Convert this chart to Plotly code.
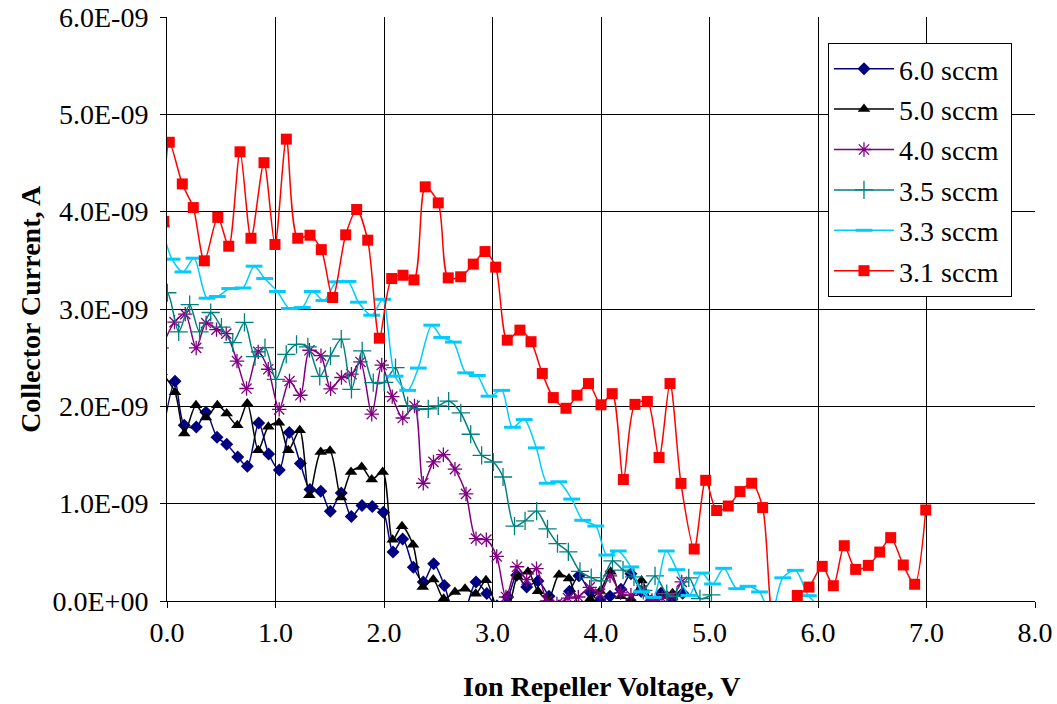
import plotly.graph_objects as go

# ---- data (current in units of 1E-09 A, voltage in V) ----
labels = ["6.0 sccm", "5.0 sccm", "4.0 sccm", "3.5 sccm", "3.3 sccm", "3.1 sccm"]

x_60 = [-0.06, 0.074, 0.159, 0.270, 0.359, 0.461, 0.550, 0.652, 0.740, 0.845, 0.937, 1.035, 1.127, 1.229, 1.318,
        1.417, 1.505, 1.606, 1.699, 1.797, 1.892, 1.994, 2.083, 2.172, 2.270, 2.362, 2.458, 2.556, 2.650,
        2.747, 2.848, 2.947, 3.041, 3.140, 3.223, 3.315, 3.419, 3.521, 3.613, 3.710, 3.797, 3.899, 3.991,
        4.083, 4.184, 4.276, 4.369, 4.461, 4.553, 4.654, 4.753]
y_60 = [1.60, 2.257, 1.805, 1.787, 1.939, 1.683, 1.610, 1.480, 1.384, 1.829, 1.511, 1.346, 1.730, 1.412, 1.145,
        1.128, 0.922, 1.110, 0.867, 0.981, 0.970, 0.912, 0.504, 0.636, 0.348, 0.195, 0.383, 0.160, -0.120,
        -0.080, 0.195, 0.076, -0.050, 0.041, 0.264, 0.144, 0.206, 0.050, -0.050, 0.100, 0.260, 0.090, 0.000,
        0.050, 0.120, 0.280, 0.100, 0.000, 0.080, 0.020, 0.080]

x_50 = [-0.05, 0.074, 0.159, 0.267, 0.359, 0.464, 0.550, 0.648, 0.740, 0.841, 0.934, 1.032, 1.118, 1.223, 1.312,
        1.417, 1.502, 1.604, 1.696, 1.794, 1.887, 1.988, 2.080, 2.166, 2.267, 2.357, 2.454, 2.550, 2.654,
        2.747, 2.845, 2.940, 3.037, 3.134, 3.230, 3.327, 3.419, 3.516, 3.613, 3.705, 3.802, 3.899, 3.991,
        4.088, 4.184, 4.276, 4.373, 4.470, 4.553, 4.659]
y_50 = [2.35, 2.145, 1.720, 2.011, 1.884, 2.011, 1.926, 1.806, 2.029, 1.549, 1.790, 1.831, 1.549, 1.753, 1.086,
        1.532, 1.543, 1.063, 1.326, 1.377, 1.248, 1.326, 0.629, 0.767, 0.579, 0.144, 0.220, 0.024, 0.092,
        0.127, 0.075, 0.212, -0.05, -0.10, 0.25, 0.30, 0.10, 0.02, 0.27, 0.23, -0.05, 0.02, 0.10,
        0.30, 0.05, 0.02, 0.21, 0.00, 0.05, 0.08]

x_40 = [-0.05, 0.069, 0.168, 0.269, 0.361, 0.456, 0.546, 0.645, 0.733, 0.841, 0.933, 1.034, 1.129, 1.229, 1.313,
        1.419, 1.508, 1.608, 1.700, 1.783, 1.887, 1.979, 2.076, 2.173, 2.281, 2.362, 2.456, 2.547, 2.654,
        2.756, 2.848, 2.943, 3.039, 3.124, 3.226, 3.315, 3.406, 3.502, 3.594, 3.696, 3.791, 3.896, 3.991,
        4.083, 4.180, 4.276, 4.375, 4.470, 4.562, 4.654, 4.744]
y_40 = [2.60, 2.865, 2.947, 2.600, 2.856, 2.788, 2.747, 2.464, 2.183, 2.560, 2.381, 1.969, 2.260, 2.114, 2.576,
        2.520, 2.180, 2.296, 2.330, 2.456, 1.919, 2.424, 2.100, 1.880, 2.004, 1.210, 1.429, 1.503, 1.355,
        1.100, 0.641, 0.630, 0.458, 0.041, 0.352, 0.220, 0.333, 0.000, -0.030, 0.030, 0.041, 0.141, 0.076,
        0.258, 0.084, 0.059, 0.110, 0.005, 0.030, 0.050, 0.196]

x_35 = [-0.08, 0.003, 0.108, 0.209, 0.300, 0.403, 0.502, 0.606, 0.714, 0.811, 0.903, 1.003, 1.099, 1.194, 1.298,
        1.408, 1.507, 1.606, 1.700, 1.799, 1.901, 2.002, 2.106, 2.218, 2.309, 2.408, 2.500, 2.596, 2.708,
        2.799, 2.900, 3.007, 3.097, 3.203, 3.300, 3.407, 3.507, 3.599, 3.699, 3.806, 3.910, 4.000, 4.106,
        4.203, 4.304, 4.390, 4.498, 4.606, 4.698, 4.809, 4.912, 5.018]
y_35 = [3.10, 3.167, 2.765, 3.044, 2.765, 2.964, 2.813, 2.654, 2.862, 2.510, 2.603, 2.276, 2.533, 2.636, 2.610,
        2.307, 2.517, 2.691, 2.174, 2.569, 2.243, 2.246, 2.397, 2.008, 1.973, 1.973, 2.004, 2.054, 1.932,
        1.713, 1.497, 1.428, 1.274, 0.769, 0.824, 0.923, 0.740, 0.590, 0.504, 0.304, 0.240, 0.206, 0.412,
        0.317, 0.248, 0.110, 0.258, 0.076, 0.048, 0.238, 0.024, 0.062]

x_33 = [-0.05, 0.046, 0.147, 0.249, 0.369, 0.464, 0.578, 0.700, 0.802, 0.900, 1.017, 1.128, 1.247, 1.339, 1.447,
        1.560, 1.668, 1.765, 1.887, 1.988, 2.101, 2.218, 2.316, 2.440, 2.532, 2.639, 2.753, 2.860, 2.968,
        3.085, 3.184, 3.292, 3.404, 3.504, 3.611, 3.730, 3.831, 3.952, 4.053, 4.159, 4.275, 4.375, 4.482,
        4.601, 4.698, 4.811, 4.928, 5.028, 5.131, 5.251, 5.355, 5.461, 5.567, 5.675, 5.791, 5.911, 6.009]
y_33 = [3.85, 3.512, 3.381, 3.522, 3.111, 3.128, 3.210, 3.216, 3.440, 3.313, 3.180, 3.005, 3.015, 3.180, 3.087,
        3.279, 3.283, 3.070, 2.936, 3.100, 2.310, 2.164, 2.393, 2.834, 2.708, 2.660, 2.344, 2.317, 2.104,
        2.164, 1.785, 1.864, 1.573, 1.210, 1.225, 1.047, 0.829, 0.770, 0.472, 0.514, 0.350, 0.094, 0.037,
        0.514, 0.322, 0.058, 0.287, 0.175, 0.336, 0.127, 0.151, 0.093, -0.15, 0.238, 0.315, 0.055, -0.05]

x_31 = [-0.03, 0.021, 0.141, 0.242, 0.344, 0.468, 0.569, 0.673, 0.774, 0.894, 0.995, 1.100, 1.205, 1.318, 1.422,
        1.527, 1.647, 1.748, 1.850, 1.957, 2.071, 2.175, 2.276, 2.380, 2.500, 2.592, 2.707, 2.823, 2.931,
        3.029, 3.136, 3.253, 3.355, 3.459, 3.560, 3.677, 3.779, 3.885, 4.000, 4.103, 4.206, 4.313, 4.427,
        4.535, 4.636, 4.737, 4.859, 4.965, 5.066, 5.173, 5.281, 5.389, 5.490, 5.600, 5.705, 5.809, 5.917,
        6.039, 6.141, 6.242, 6.347, 6.464, 6.569, 6.670, 6.786, 6.891, 6.993]
y_31 = [3.90, 4.713, 4.285, 4.042, 3.495, 3.941, 3.645, 4.615, 3.727, 4.503, 3.663, 4.745, 3.727, 3.758, 3.610,
        3.118, 3.762, 4.022, 3.707, 2.700, 3.313, 3.347, 3.299, 4.255, 4.090, 3.320, 3.331, 3.461, 3.590,
        3.430, 2.680, 2.783, 2.664, 2.338, 2.090, 1.980, 2.114, 2.234, 2.016, 2.130, 1.248, 2.020, 2.050,
        1.474, 2.234, 1.208, 0.534, 1.240, 0.930, 0.976, 1.124, 1.210, 0.960, -0.25, -0.10, 0.057, 0.143,
        0.356, 0.157, 0.568, 0.325, 0.366, 0.503, 0.651, 0.370, 0.172, 0.935]

x_ticks = [0, 1, 2, 3, 4, 5, 6, 7, 8]
x_ticklabels = ["0.0", "1.0", "2.0", "3.0", "4.0", "5.0", "6.0", "7.0", "8.0"]
y_ticks = [0, 1, 2, 3, 4, 5, 6]
y_ticklabels = ["0.0E+00", "1.0E-09", "2.0E-09", "3.0E-09", "4.0E-09", "5.0E-09", "6.0E-09"]

# ---- styles ----
series = [
    (x_60, y_60, "#000080", dict(symbol="diamond", size=10, color="#000080", line=dict(width=0))),
    (x_50, y_50, "#000000", dict(symbol="triangle-up", size=11, color="#000000", line=dict(width=0))),
    (x_40, y_40, "#800080", dict(symbol="asterisk-open", size=12, color="#800080", line=dict(color="#800080", width=1.3))),
    (x_35, y_35, "#008080", dict(symbol="cross-thin-open", size=13, color="#008080", line=dict(color="#008080", width=1.3))),
    (x_33, y_33, "#00CCFF", dict(symbol="line-ew-open", size=12, color="#00CCFF", line=dict(color="#00CCFF", width=3))),
    (x_31, y_31, "#FF0000", dict(symbol="square", size=11, color="#FF0000", line=dict(width=0))),
]

FONT = "Liberation Serif, Times New Roman, serif"
FS = 28

fig = go.Figure()
for (xs, ys, col, mk), name in zip(series, labels):
    fig.add_trace(go.Scatter(
        x=xs, y=ys, name=name + "\u00a0", mode="lines+markers",
        line=dict(color=col, width=1.5, shape="spline", smoothing=0.8),
        marker=mk, legendgroup=name,
    ))

fig.update_layout(
    width=1057, height=704,
    margin=dict(l=167, r=22, t=17, b=103, autoexpand=False),
    paper_bgcolor="white", plot_bgcolor="white",
    font=dict(family=FONT, size=FS, color="black"),
    showlegend=True,
    legend=dict(
        x=0.7615, y=0.9555, xanchor="left", yanchor="top",
        bgcolor="white", bordercolor="black", borderwidth=1,
        font=dict(family=FONT, size=FS, color="black"),
        tracegroupgap=1, itemwidth=60,
    ),
    xaxis=dict(
        range=[0, 8], tickvals=x_ticks, ticktext=x_ticklabels,
        showgrid=True, gridcolor="black", gridwidth=1,
        showline=True, linecolor="black", linewidth=1, mirror=False,
        ticks="outside", ticklen=6, tickcolor="black",
        zeroline=False, automargin=False,
        tickfont=dict(family=FONT, size=FS),
    ),
    yaxis=dict(
        range=[0, 6], tickvals=y_ticks, ticktext=y_ticklabels,
        showgrid=True, gridcolor="black", gridwidth=1,
        showline=True, linecolor="black", linewidth=1,
        ticks="outside", ticklen=6, tickcolor="black",
        zeroline=False, ticklabelstandoff=6, automargin=False,
        tickfont=dict(family=FONT, size=FS),
    ),
    annotations=[
        dict(text="<b>Ion Repeller Voltage, V</b>", xref="paper", yref="paper",
             x=0.5, y=-0.146, xanchor="center", yanchor="middle", showarrow=False,
             font=dict(family=FONT, size=FS)),
        dict(text="<b>Collector Current, A</b>", xref="paper", yref="paper",
             x=-0.158, y=0.5, xanchor="center", yanchor="middle", showarrow=False,
             textangle=-90, font=dict(family=FONT, size=FS)),
    ],
)

fig.write_html("out.html")
